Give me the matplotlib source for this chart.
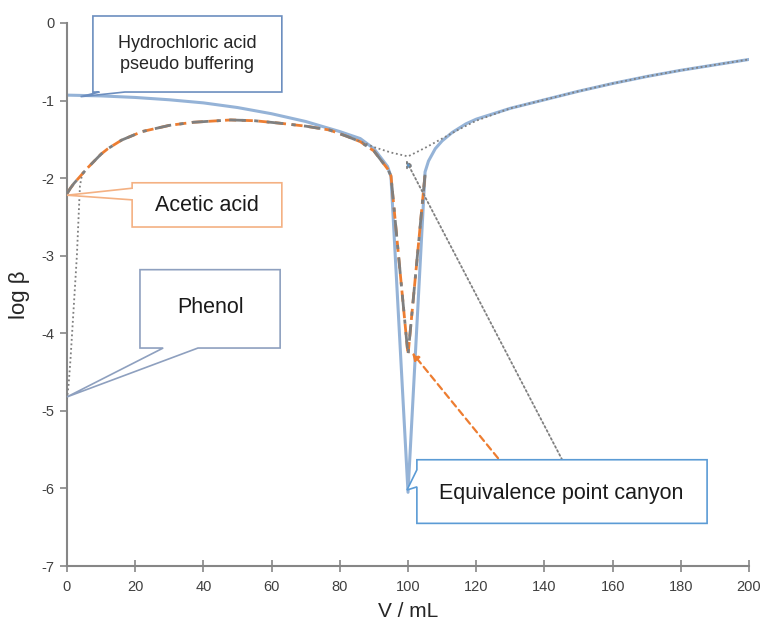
import matplotlib
matplotlib.use("Agg")
import matplotlib.pyplot as plt
from matplotlib.patches import Polygon

plt.rcParams['axes.unicode_minus'] = False

### données : V en mL, log beta
v_total = [0, 10, 20, 30, 40, 50, 60, 70, 80, 86, 90, 94, 95, 100, 105, 106, 108, 110,
           113, 117, 120, 130, 140, 150, 160, 170, 180, 190, 200]
logb_total = [-0.93, -0.94, -0.96, -0.99, -1.03, -1.09, -1.17, -1.27, -1.40, -1.49, -1.62,
              -1.85, -1.98, -6.05, -1.92, -1.78, -1.62, -1.52, -1.41, -1.30, -1.24, -1.10,
              -0.99, -0.88, -0.78, -0.69, -0.61, -0.54, -0.47]

v_acetic = [0, 1, 2, 3, 4, 6, 8, 10, 12, 16, 22, 30, 37, 48, 55, 62, 70, 77, 82, 86, 90,
            94, 95, 100, 105]
logb_acetic = [-2.20, -2.13, -2.07, -2.02, -1.97, -1.87, -1.78, -1.69, -1.62, -1.51, -1.40,
               -1.32, -1.28, -1.25, -1.26, -1.29, -1.33, -1.38, -1.46, -1.53, -1.65, -1.88,
               -1.97, -4.28, -1.95]

v_phenol = [0, 0.5, 1, 1.5, 2.2, 2.9, 3.4, 3.8, 4.3]
logb_phenol = [-4.85, -4.65, -4.35, -4.0, -3.5, -3.0, -2.5, -2.1, -1.98]

v_hcl = [84, 90, 95, 100, 105, 110, 115, 120, 130, 140, 150, 160, 170, 180, 190, 200]
logb_hcl = [-1.49, -1.60, -1.67, -1.72, -1.61, -1.49, -1.37, -1.26, -1.10, -0.99, -0.88,
            -0.78, -0.69, -0.61, -0.54, -0.47]

x_ticks = [0, 20, 40, 60, 80, 100, 120, 140, 160, 180, 200]
y_ticks = [0, -1, -2, -3, -4, -5, -6, -7]

regular = ['Liberation Sans', 'DejaVu Sans']

fig = plt.figure(figsize=(7.63, 6.26), dpi=100)
ax = fig.add_axes([0.0878, 0.0958, 0.8939, 0.8675])

ax.plot(v_total, logb_total, color='#95B3D7', lw=2.2, zorder=2)
ax.plot(v_acetic, logb_acetic, color='#ED7D31', lw=2, ls=(0, (4, 2)), zorder=3)
ax.plot(v_acetic, logb_acetic, color='#7F7F7F', lw=2, ls=(0, (6, 3, 1.5, 3)), zorder=3)
ax.plot(v_phenol, logb_phenol, color='#7F7F7F', lw=1.3, ls=(0, (1, 1.5)), zorder=3)
ax.plot(v_hcl, logb_hcl, color='#7F7F7F', lw=1.3, ls=(0, (1, 1.5)), zorder=3)

ax.set_xlim(0, 200)
ax.set_ylim(-7, 0)
ax.set_xticks(x_ticks)
ax.set_yticks(y_ticks)
ax.set_xticklabels([str(t) for t in x_ticks], family=regular, fontsize=10.5, color='#404040')
ax.set_yticklabels([str(t) for t in y_ticks], family=regular, fontsize=10.5, color='#404040')
ax.tick_params(axis='x', direction='inout', length=8, width=1.2, color='#868686', pad=6)
ax.tick_params(axis='y', direction='out', length=5, width=1.2, color='#868686', pad=4)
for s in ['top', 'right']:
    ax.spines[s].set_visible(False)
for s in ['left', 'bottom']:
    ax.spines[s].set_color('#868686')
    ax.spines[s].set_linewidth(1.5)

ax.set_xlabel('V / mL', family=regular, fontsize=15, color='#262626', labelpad=6)
ax.set_ylabel('log β', family=regular, fontsize=16, color='#262626', labelpad=8)


### bulles de commentaire (rectangle + pointe)
def bulle(x0, x1, ybas, yhaut, cote, base, pointe, couleur):
    if cote == 'bas':
        pts = [(x0, yhaut), (x1, yhaut), (x1, ybas), (base[1], ybas), pointe,
               (base[0], ybas), (x0, ybas)]
    else:
        pts = [(x0, yhaut), (x1, yhaut), (x1, ybas), (x0, ybas), (x0, base[0]), pointe,
               (x0, base[1])]
    p = Polygon(pts, closed=True, facecolor='white', edgecolor=couleur, lw=1.2,
                zorder=5, clip_on=False)
    ax.add_patch(p)


bulle(7.6, 63.0, -0.89, 0.09, 'bas', (9.5, 17.0), (4.0, -0.95), '#6C8EBF')
ax.text(35.3, -0.40, 'Hydrochloric acid\npseudo buffering', ha='center', va='center',
        family=regular, fontsize=13, color='#262626', zorder=6, linespacing=1.3)

bulle(19.1, 63.0, -2.63, -2.06, 'gauche', (-2.28, -2.13), (0, -2.22), '#F4B183')
ax.text(41, -2.35, 'Acetic acid', ha='center', va='center',
        family=regular, fontsize=15.5, color='#1a1a1a', zorder=6)

bulle(21.4, 62.5, -4.19, -3.18, 'bas', (28.2, 38.4), (0, -4.82), '#8EA0BF')
ax.text(42, -3.67, 'Phenol', ha='center', va='center',
        family=regular, fontsize=15.5, color='#1a1a1a', zorder=6)

bulle(102.6, 187.7, -6.45, -5.63, 'gauche', (-5.98, -5.76), (99.7, -6.02), '#5B9BD5')
ax.text(145, -6.06, 'Equivalence point canyon', ha='center', va='center',
        family=regular, fontsize=15.5, color='#1a1a1a', zorder=6)

### flèches vers le fond du canyon
ax.annotate('', xy=(101.2, -4.25), xytext=(126.4, -5.61),
            arrowprops=dict(arrowstyle='-|>', color='#ED7D31', lw=1.6, ls=(0, (3, 2)),
                            mutation_scale=10, shrinkA=0, shrinkB=0), zorder=4)
ax.annotate('', xy=(99.4, -1.77), xytext=(145.2, -5.63),
            arrowprops=dict(arrowstyle='-|>', color='#7F7F7F', lw=1.3, ls=(0, (1, 1.5)),
                            mutation_scale=10, shrinkA=0, shrinkB=0, fc='#5B9BD5'), zorder=4)

fig.savefig('out.png', dpi=100)
